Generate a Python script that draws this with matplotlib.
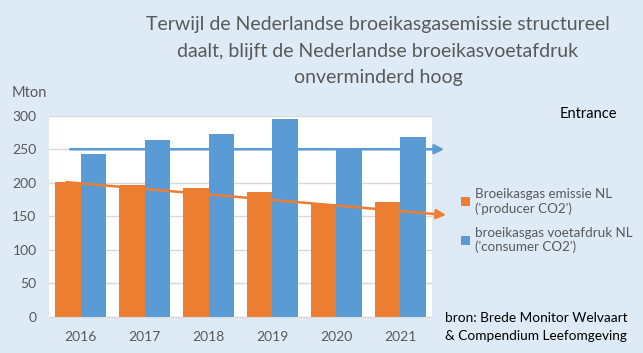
import numpy as np
from matplotlib import pyplot as plt

plt.rcParams['font.family'] = ['Lato', 'DejaVu Sans']

# data
years = ['2016', '2017', '2018', '2019', '2020', '2021']
producer_co2 = [201, 196, 192, 186, 169, 172]
consumer_co2 = [243, 264, 273, 295, 250, 268]

# trend arrows (start and end value)
consumer_trend = [250, 250]
producer_trend = [201, 152]

orange = '#ED7D31'
blue = '#5B9BD5'
grey = '#595959'

fig = plt.figure(figsize=(6.43, 3.53), dpi=100)
fig.patch.set_facecolor('#DEEAF6')
ax = fig.add_axes([49 / 643, 1 - 317 / 353, 383 / 643, 201.3 / 353])

x = np.arange(len(years))
w = 0.4
ax.bar(x - w / 2, producer_co2, w, color=orange, zorder=2, label="Broeikasgas emissie NL\n('producer CO2')")
ax.bar(x + w / 2, consumer_co2, w, color=blue, zorder=2, label="broeikasgas voetafdruk NL\n('consumer CO2')")

ax.set_xlim(-0.5, 5.5)
ax.set_ylim(0, 300)
ax.set_yticks(range(0, 301, 50))
ax.set_xticks(x)
ax.set_xticklabels(years)
ax.grid(axis='y', color='#D9D9D9', lw=1, zorder=0)
for s in ['left', 'right', 'top']:
    ax.spines[s].set_visible(False)
ax.spines['bottom'].set_color('#D9D9D9')
ax.tick_params(length=0, colors=grey, labelsize=10)
ax.tick_params(axis='x', pad=10)
ax.tick_params(axis='y', pad=9)

# trend arrows
ax.annotate('', xy=(5.69, consumer_trend[1]), xytext=(-0.17, consumer_trend[0]),
            arrowprops=dict(arrowstyle='-|>', color=blue, lw=1.8, mutation_scale=14,
                            shrinkA=0, shrinkB=0), annotation_clip=False, zorder=3)
ax.annotate('', xy=(5.72, producer_trend[1]), xytext=(-0.23, producer_trend[0]),
            arrowprops=dict(arrowstyle='-|>', color=orange, lw=1.8, mutation_scale=14,
                            shrinkA=0, shrinkB=0), annotation_clip=False, zorder=3)

fig.text(378 / 643, 1 - 51 / 353,
         'Terwijl de Nederlandse broeikasgasemissie structureel\n'
         'daalt, blijft de Nederlandse broeikasvoetafdruk\n'
         'onverminderd hoog',
         ha='center', va='center', fontsize=14, color=grey, linespacing=1.65)
fig.text(12 / 643, 1 - 93 / 353, 'Mton', fontsize=10.5, color=grey, va='center')
fig.text(560 / 643, 1 - 114 / 353, 'Entrance', fontsize=10.5, color='black', va='center')

leg = fig.legend(loc='upper left', bbox_to_anchor=(449 / 643, 1 - 176 / 353),
                 frameon=False, fontsize=9.6, handlelength=0.65, handleheight=0.65,
                 handletextpad=0.4, labelspacing=0.9, labelcolor=grey)

fig.text(445 / 643, 1 - 327 / 353, 'bron: Brede Monitor Welvaart\n& Compendium Leefomgeving',
         fontsize=9.8, color='black', va='center', linespacing=1.5)

plt.savefig('out.png', dpi=100, facecolor=fig.get_facecolor())
